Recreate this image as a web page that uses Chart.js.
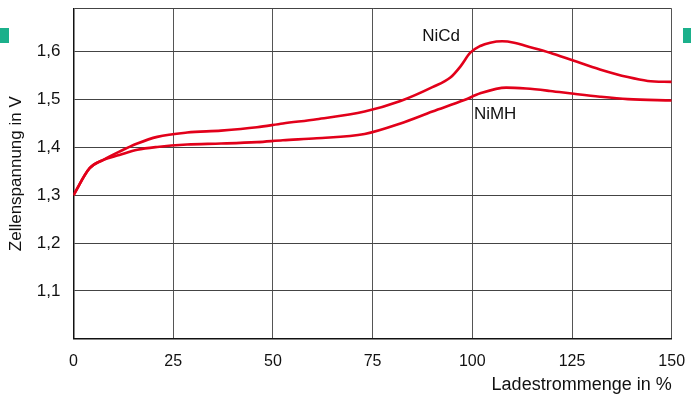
<!DOCTYPE html>
<html>
<head>
<meta charset="utf-8">
<script src="https://cdn.jsdelivr.net/npm/chart.js@4/dist/chart.umd.min.js"></script>
<style>
  html, body { margin: 0; padding: 0; background: #fff; }
  #wrap { width: 691px; height: 397px; position: relative; }
</style>
</head>
<body>
<div id="wrap"><canvas id="myChart"></canvas></div>
<script>
//---------------------Data-----------------------------
const nicdX = [0, 4, 7.5, 11.5, 16, 21, 28.5, 37, 46, 52.5, 61, 73, 82, 90, 94.5, 97, 99.5, 102, 104.5, 107.5, 110.5, 113.5, 119.5, 125.5, 132, 139, 144, 150];
const nicdY = [1.30, 1.356, 1.374, 1.391, 1.408, 1.422, 1.431, 1.435, 1.442, 1.450, 1.459, 1.475, 1.497, 1.526, 1.546, 1.569, 1.598, 1.612, 1.619, 1.622, 1.619, 1.612, 1.598, 1.581, 1.563, 1.547, 1.539, 1.537];

const nimhX = [0, 4, 7.5, 11.5, 16, 21, 28.5, 37, 46, 52.5, 61, 73, 82, 90, 98, 102, 108.5, 113.5, 119.5, 125.5, 132, 139, 150];
const nimhY = [1.30, 1.356, 1.374, 1.384, 1.395, 1.401, 1.406, 1.408, 1.411, 1.415, 1.419, 1.428, 1.450, 1.475, 1.499, 1.513, 1.525, 1.523, 1.518, 1.512, 1.506, 1.501, 1.498];

const seriesNames = ["NiCd", "NiMH"];
const xTicks = [0, 25, 50, 75, 100, 125, 150];
const yTicks = [1.0, 1.1, 1.2, 1.3, 1.4, 1.5, 1.6, 1.69];
const xTitle = "Ladestrommenge in %";
const yTitle = "Zellenspannung in V";

// where the series names sit, in data units
const nameSpots = [
  { x: 96.9, y: 1.633, align: "right" },
  { x: 100.4, y: 1.47, align: "left" },
];

const FONT = "'Liberation Sans', Arial, Helvetica, sans-serif";
const RED = "#e2001a";

const toPoints = (xs, ys) => xs.map((x, i) => ({ x: x, y: ys[i] }));

//---------------------Plugins-----------------------------
const extras = {
  id: "extras",
  beforeDraw(chart) {
    const c = chart.ctx;
    c.save();
    c.fillStyle = "#1bb08b";
    c.fillRect(0, 28, 9, 15);
    c.fillRect(683, 28, 8, 15);
    c.restore();
  },
  afterDatasetsDraw(chart) {
    const c = chart.ctx;
    const xs = chart.scales.x;
    const ys = chart.scales.y;
    c.save();
    c.font = "17px " + FONT;
    c.fillStyle = "#111";
    c.textBaseline = "middle";
    seriesNames.forEach((name, i) => {
      const s = nameSpots[i];
      c.textAlign = s.align;
      c.fillText(name, xs.getPixelForValue(s.x), ys.getPixelForValue(s.y));
    });
    c.restore();
  },
};

//---------------------Chart-----------------------------
const ctx = document.getElementById("myChart");

new Chart(ctx, {
  type: "line",
  data: {
    datasets: [
      {
        label: seriesNames[0],
        data: toPoints(nicdX, nicdY),
        borderColor: RED,
        borderWidth: 2.6,
        pointRadius: 0,
        cubicInterpolationMode: "monotone",
      },
      {
        label: seriesNames[1],
        data: toPoints(nimhX, nimhY),
        borderColor: RED,
        borderWidth: 2.6,
        pointRadius: 0,
        cubicInterpolationMode: "monotone",
      },
    ],
  },
  options: {
    responsive: true,
    maintainAspectRatio: false,
    animation: false,
    layout: { padding: { top: 8.7, right: 19.3, bottom: 0, left: 0 } },
    plugins: { legend: { display: false }, tooltip: { enabled: false } },
    scales: {
      x: {
        type: "linear",
        min: 0,
        max: 150,
        afterBuildTicks: (s) => { s.ticks = xTicks.map((v) => ({ value: v })); },
        afterFit: (s) => {
          s.height = 58.3;
          s.paddingLeft = 0;
          s.paddingRight = 0;
        },
        grid: { color: "#555", lineWidth: 1, drawTicks: false },
        border: { color: "#111", width: 1.5 },
        ticks: {
          padding: 13,
          color: "#111",
          font: { family: FONT, size: 16 },
          maxRotation: 0,
        },
        title: {
          display: true,
          text: xTitle,
          align: "end",
          color: "#111",
          font: { family: FONT, size: 18 },
          padding: { top: 0, bottom: 1 },
        },
      },
      y: {
        min: 1.0,
        max: 1.69,
        afterBuildTicks: (s) => { s.ticks = yTicks.map((v) => ({ value: v })); },
        afterFit: (s) => {
          s.width = 73.5;
          s.paddingTop = 0;
          s.paddingBottom = 0;
        },
        grid: { color: "#444", lineWidth: 1, drawTicks: false },
        border: { color: "#111", width: 1.5 },
        ticks: {
          padding: 13,
          color: "#111",
          font: { family: FONT, size: 17 },
          callback: (v) => (v < 1.05 || v > 1.65 ? "" : v.toFixed(1).replace(".", ",")),
        },
        title: {
          display: true,
          text: yTitle,
          color: "#111",
          font: { family: FONT, size: 17 },
          padding: { top: 6, bottom: 0 },
        },
      },
    },
  },
  plugins: [extras],
});
</script>
</body>
</html>
